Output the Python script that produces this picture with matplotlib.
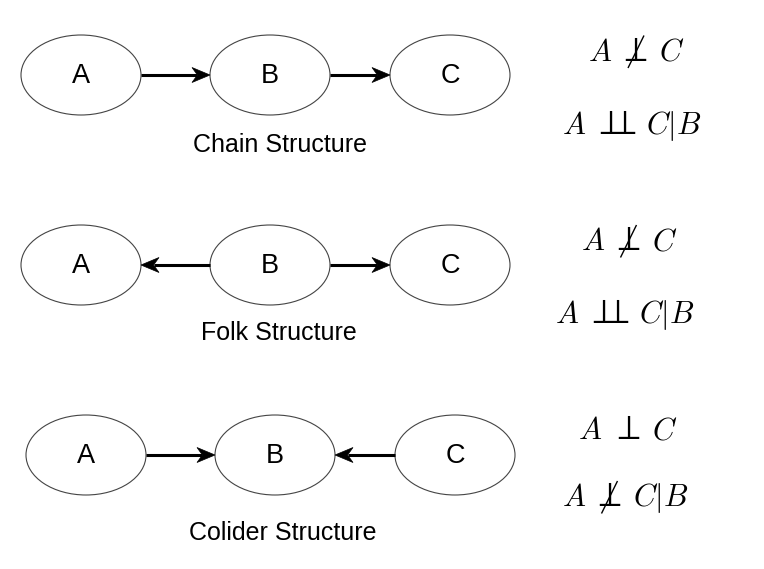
import matplotlib
matplotlib.use("Agg")
import matplotlib.pyplot as plt
from matplotlib.patches import Ellipse, Polygon

plt.rcParams['mathtext.fontset'] = 'cm'

# ---- diagram content ----
structure_names = ["Chain Structure", "Folk Structure", "Colider Structure"]
node_labels = ["A", "B", "C"]
# edges as (from_index, to_index) for each structure
edges_chain = [(0, 1), (1, 2)]
edges_fork = [(1, 0), (1, 2)]
edges_collider = [(0, 1), (2, 1)]
# independence statements: (left, relation, right); relation in {"perp", "notperp", "indep"}
statements_marginal = [("A", "notperp", "C"), ("A", "notperp", "C"), ("A", "perp", "C")]
statements_conditional = [("A", "indep", "C|B"), ("A", "indep", "C|B"), ("A", "notperp", "C|B")]

# ---- layout (pixels) ----
W, H = 764, 569
row_y = [75, 265, 455]
row_x = [[81, 270, 450], [81, 270, 450], [86, 275, 455]]
label_pos = [(280, 145), (279, 333), (283, 533)]
# (A centre x, relation centre x, right part left x, baseline y)
math_marg_pos = [(600.5, 636.5, 659, 60.5), (593, 629, 652, 250), (590.5, 629, 652, 439)]
math_cond_pos = [(574.5, 617.5, 646, 134), (567.5, 610, 639, 323), (574.5, 610, 633, 506)]
ell_w, ell_h = 120, 80
MFS = 22      # math letters
RFS = 25      # relation symbols
GLYPH_DX = -4  # the perp glyph's ink sits right of its box centre

fig = plt.figure(figsize=(W / 100, H / 100), dpi=100)
ax = fig.add_axes([0, 0, 1, 1])
ax.set_xlim(0, W)
ax.set_ylim(H, 0)
ax.axis("off")

all_edges = [edges_chain, edges_fork, edges_collider]


def draw_arrow(x0, x1, y):
    d = 1 if x1 > x0 else -1
    L, Wd = 18, 15
    ax.plot([x0, x1 - d * L * 0.7], [y, y], color="black", lw=2.2,
            solid_capstyle="butt", zorder=2)
    pts = [(x1, y), (x1 - d * L, y - Wd / 2), (x1 - d * L * 0.7, y), (x1 - d * L, y + Wd / 2)]
    ax.add_patch(Polygon(pts, closed=True, facecolor="black", edgecolor="black",
                         lw=0.5, zorder=3))


def draw_statement(stmt, pos):
    left, rel, right = stmt
    ax_c, rel_c, right_x, base = pos
    ax.text(ax_c, base, "$" + left + "$", ha="center", va="baseline", fontsize=MFS)
    if rel == "indep":
        ax.text(rel_c + GLYPH_DX + 1, base, r"$\perp\hspace{-0.72}\perp$", ha="center",
                va="baseline", fontsize=RFS)
    else:
        ax.text(rel_c + GLYPH_DX, base, r"$\perp$", ha="center", va="baseline", fontsize=RFS)
        if rel == "notperp":
            ax.plot([rel_c - 8.5, rel_c + 7.5], [base + 7.5, base - 25], color="black",
                    lw=1.0, solid_capstyle="butt")
    ax.text(right_x, base, "$" + right + "$", ha="left", va="baseline", fontsize=MFS)


for r in range(3):
    y = row_y[r]
    for i, lab in enumerate(node_labels):
        cx = row_x[r][i]
        ax.add_patch(Ellipse((cx, y), ell_w, ell_h, facecolor="white",
                             edgecolor="#444444", lw=0.8, zorder=1))
        ax.text(cx, y + 1, lab, ha="center", va="center", fontsize=19.5,
                family="Liberation Sans", color="black", zorder=4)
    for (a, b) in all_edges[r]:
        xa, xb = row_x[r][a], row_x[r][b]
        d = 1 if xb > xa else -1
        draw_arrow(xa + d * ell_w / 2, xb - d * ell_w / 2, y)
    lx, ly = label_pos[r]
    ax.text(lx, ly, structure_names[r], ha="center", va="center", fontsize=18,
            family="Liberation Sans", color="black")
    draw_statement(statements_marginal[r], math_marg_pos[r])
    draw_statement(statements_conditional[r], math_cond_pos[r])

fig.savefig("out.png", dpi=100)
